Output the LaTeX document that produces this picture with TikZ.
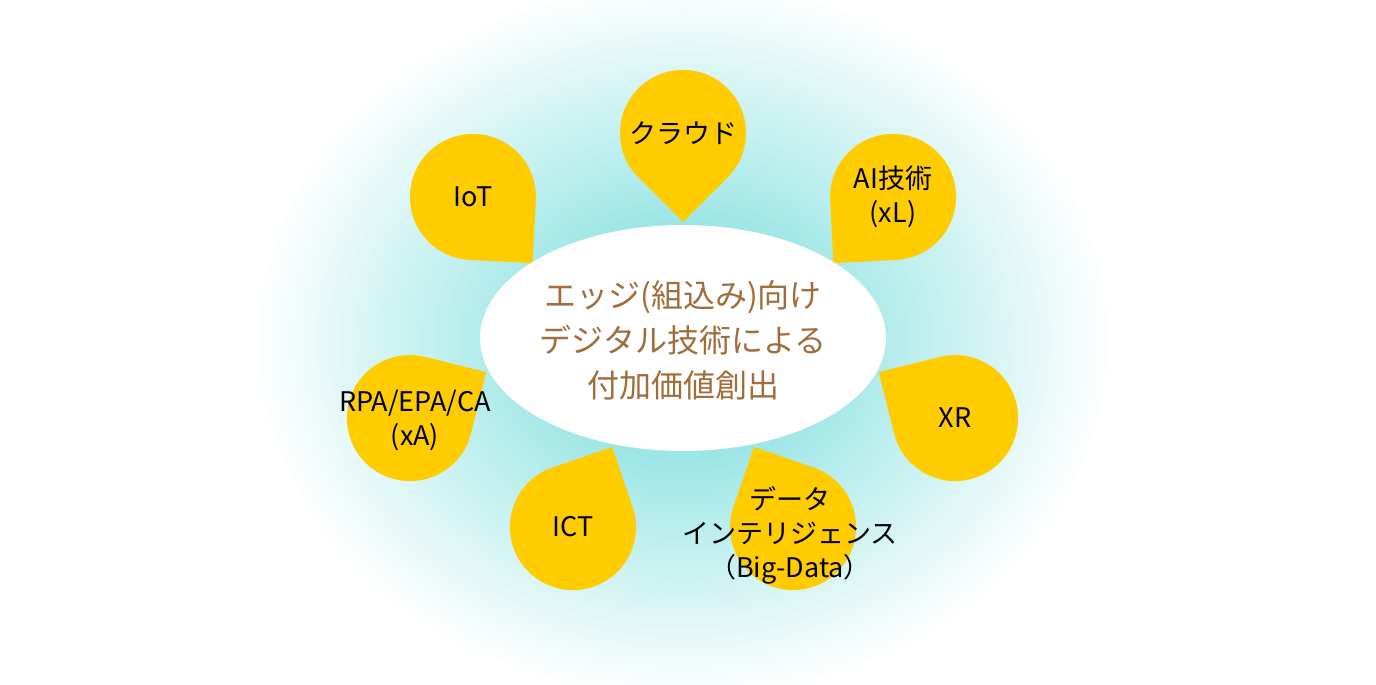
\documentclass[tikz,border=0pt]{standalone}
\usepackage{fontspec}
\newfontfamily\jpfont{Noto Sans CJK JP}
\usetikzlibrary{positioning}
\definecolor{pinyellow}{RGB}{255,204,0}
\definecolor{glowcyan}{RGB}{110,218,218}
\definecolor{titlebrown}{RGB}{160,110,60}
% teardrop pin: center, tip direction
\newcommand{\pinshape}[3]{%
  \fill[pinyellow] (#1,#2) ++(#3:89) -- ++(#3+135:63) arc[start angle=#3+45, end angle=#3+315, radius=63] -- cycle;}
\tikzset{
  pinlabel/.style={align=center, font=\jpfont\fontsize{27}{34}\selectfont, text=black},
  titlelabel/.style={align=center, font=\jpfont\fontsize{32}{45}\selectfont, text=titlebrown}
}
\begin{document}
\begin{tikzpicture}[x=1pt,y=1pt]
    \useasboundingbox (0,0) rectangle (1376,685);
    \shade[inner color=glowcyan, outer color=white] (683,345) ellipse (430 and 360);

    \pinshape{683}{552}{-90}
    \pinshape{473}{488}{-48}
    \pinshape{893}{488}{-132}
    \pinshape{410}{267}{31}
    \pinshape{955}{267}{149}
    \pinshape{573}{158}{64}
    \pinshape{793}{158}{116}

    \fill[white] (683,347) ellipse (203 and 113);
    \node[titlelabel] (title) at (683,345) {エッジ(組込み)向け\\デジタル技術による\\付加価値創出};

    \node[pinlabel] (cloud) at (683,552) {クラウド};
    \node[pinlabel] (iot) at (473,488) {IoT};
    \node[pinlabel] (ai) at (893,488) {AI技術\\(xL)};
    \node[pinlabel] (rpa) at (415,265) {RPA/EPA/CA\\(xA)};
    \node[pinlabel] (xr) at (955,267) {XR};
    \node[pinlabel] (ict) at (573,158) {ICT};
    \node[pinlabel] (data) at (790,150) {データ\\インテリジェンス\\（Big-Data）};
\end{tikzpicture}
\end{document}
